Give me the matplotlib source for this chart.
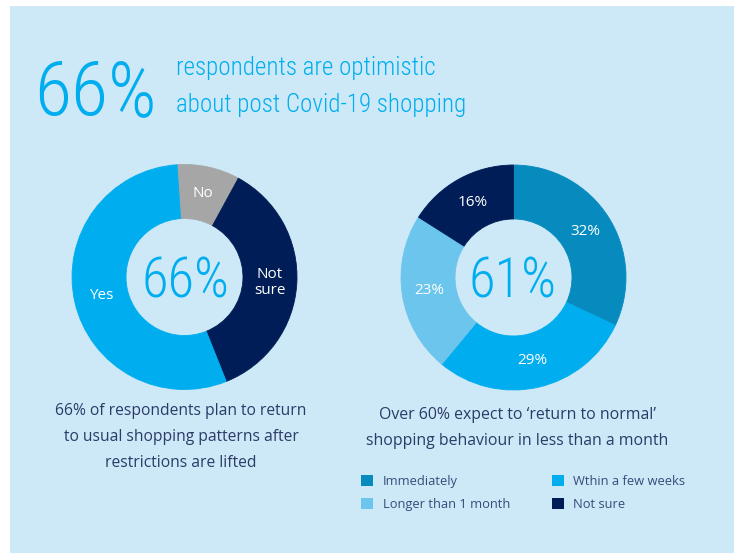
import matplotlib
matplotlib.use('Agg')
import matplotlib.pyplot as plt
from matplotlib import font_manager as fm
from matplotlib.patches import Rectangle

# ---------------- data ----------------
left_labels = ['No', 'Not\nsure', 'Yes']
left_values = [9, 36, 55]
left_colors = ['#a6a6a6', '#001d57', '#00aeef']
left_center_text = '66%'

right_categories = ['Immediately', 'Wthin a few weeks', 'Longer than 1 month', 'Not sure']
right_values = [32, 29, 23, 16]
right_colors = ['#078bbe', '#00aeef', '#6cc5ec', '#001d57']
right_center_text = '61%'

headline_number = '66%'
headline_lines = ['respondents are optimistic', 'about post Covid-19 shopping']
left_caption = ['66% of respondents plan to return',
                'to usual shopping patterns after',
                'restrictions are lifted']
right_caption = ['Over 60% expect to \u2018return to normal\u2019',
                 'shopping behaviour in less than a month']

# ---------------- fonts ----------------
ttf = fm.fontManager.ttflist
names = {f.name for f in ttf}

def find_file(family, must, avoid=('Italic',)):
    for f in ttf:
        base = f.fname.split('/')[-1]
        if f.name == family and all(m in base for m in must) and not any(a in base for a in avoid):
            return f.fname
    return None

BODY_FAM = 'Open Sans' if 'Open Sans' in names else 'DejaVu Sans'

narrow = None
narrow_light = None
for cand in ['Roboto Condensed', 'Liberation Sans Narrow', 'Open Sans Condensed']:
    if cand in names:
        narrow = dict(family=cand)
        lf = find_file(cand, ['Light'], ('Italic',))
        if lf:
            narrow_light = dict(fontproperties=fm.FontProperties(fname=lf))
        break
if narrow is None:
    narrow = dict(family=BODY_FAM)

light_file = find_file('Lato', ['Light'], ('Italic', 'Hairline', 'Thin'))
if narrow_light is not None:
    BIG = narrow_light
elif light_file:
    BIG = dict(fontproperties=fm.FontProperties(fname=light_file))
else:
    BIG = narrow
HEAD = narrow_light if narrow_light is not None else narrow

W, H = 734, 553
fig = plt.figure(figsize=(W / 100, H / 100), dpi=100, facecolor='white')
ax = fig.add_axes([0, 0, 1, 1])

def Y(y):
    return H - y

BG = '#cde9f7'
CYAN = '#00aeef'
TXT = '#2b3b68'

# panel
ax.add_patch(Rectangle((10, 0), W - 10, H - 6, facecolor=BG, edgecolor='none', zorder=0))

ring_r = 112.5
ring_w = 54
lab_d = (ring_r - ring_w / 2) / ring_r

# left donut
wl, _ = ax.pie(left_values, labels=left_labels, colors=left_colors, center=(184.5, Y(277)),
               radius=ring_r, startangle=93.8, counterclock=False, labeldistance=lab_d,
               wedgeprops=dict(width=ring_w, linewidth=0.6),
               textprops=dict(color='white', ha='center', va='center', fontsize=11,
                              family=BODY_FAM, linespacing=1.1))

# right donut
wr, _ = ax.pie(right_values, labels=[f'{v}%' for v in right_values], colors=right_colors,
               center=(513.5, Y(277.5)), radius=ring_r, startangle=90, counterclock=False,
               labeldistance=lab_d,
               wedgeprops=dict(width=ring_w, linewidth=0.6),
               textprops=dict(color='white', ha='center', va='center', fontsize=11,
                              family=BODY_FAM))
for w in list(wl) + list(wr):
    w.set_edgecolor(w.get_facecolor())

ax.set_xlim(0, W)
ax.set_ylim(0, H)
ax.set_aspect('auto')
ax.axis('off')

fig.canvas.draw()
R = fig.canvas.get_renderer()

def fit(t, target):
    for _ in range(3):
        bb = t.get_window_extent(renderer=R)
        t.set_fontsize(t.get_fontsize() * target / bb.width)

# center numbers
tc1 = ax.text(185.5, Y(297), left_center_text, ha='center', va='baseline', color=CYAN,
              fontsize=30, **BIG)
fit(tc1, 88)
tc2 = ax.text(512, Y(297), right_center_text, ha='center', va='baseline', color=CYAN,
              fontsize=30, **BIG)
tc2.set_fontsize(tc1.get_fontsize())

# headline
th = ax.text(157, Y(115), headline_number, ha='right', va='baseline', color=CYAN,
             fontsize=50, **BIG)
fit(th, 122)
t1 = ax.text(176, Y(75), headline_lines[0], ha='left', va='baseline', color=CYAN,
             fontsize=20, **HEAD)
fit(t1, 260)
t2 = ax.text(176, Y(112), headline_lines[1], ha='left', va='baseline', color=CYAN,
             fontsize=t1.get_fontsize(), **HEAD)

# captions
cap_l = []
for i, line in enumerate(left_caption):
    cap_l.append(ax.text(181, Y(415 + 26 * i), line, ha='center', va='baseline',
                         color=TXT, family=BODY_FAM, fontsize=11))
fit(cap_l[0], 252)
for t in cap_l[1:]:
    t.set_fontsize(cap_l[0].get_fontsize())

cap_r = []
for i, line in enumerate(right_caption):
    cap_r.append(ax.text(517.5, Y(419 + 26 * i), line, ha='center', va='baseline',
                         color=TXT, family=BODY_FAM, fontsize=11))
fit(cap_r[1], 302)
cap_r[0].set_fontsize(cap_r[1].get_fontsize())

# legend (row-wise order for 2 columns)
order = [0, 2, 1, 3]
handles = [Rectangle((0, 0), 1, 1, facecolor=right_colors[i], edgecolor='none') for i in order]
labels = [right_categories[i] for i in order]
leg = ax.legend(handles, labels, ncol=2, frameon=False, loc='upper left',
                bbox_to_anchor=(361 / W, 1 - 475 / H), bbox_transform=fig.transFigure,
                prop=dict(family=BODY_FAM, size=9.3), handlelength=0.92, handleheight=0.92,
                handletextpad=0.75, columnspacing=3.25, labelspacing=0.78, borderpad=0,
                borderaxespad=0)
for t in leg.get_texts():
    t.set_color('#394a79')

fig.savefig('out.png', dpi=100, facecolor='white')
